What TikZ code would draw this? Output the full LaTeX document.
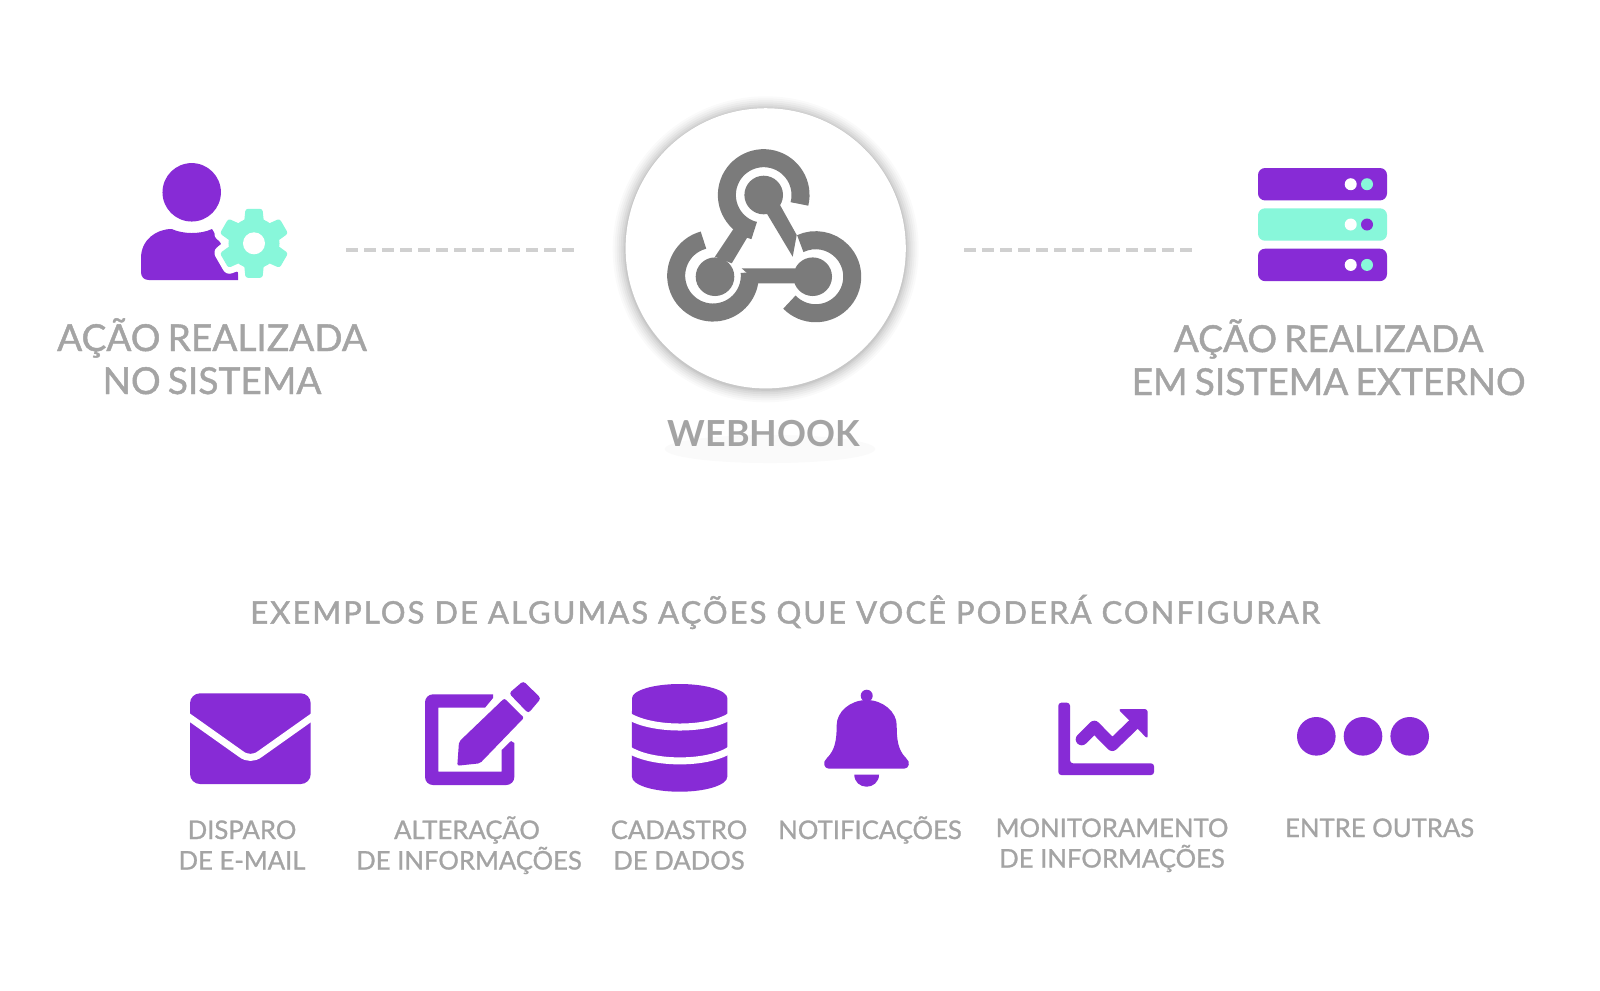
\documentclass[tikz,border=0pt]{standalone}
\usepackage{fontspec}
\setmainfont{Lato}
\newfontfamily\bigfam[WordSpace=0.75,FakeBold=1.2]{Lato}
\newfontfamily\smallfam[FakeBold=1]{Lato}
\newfontfamily\headfam[FakeBold=1.5,LetterSpace=6.7]{Lato}
\usetikzlibrary{calc}
\definecolor{pur}{HTML}{872BD6}
\definecolor{mint}{HTML}{88F7DA}
\definecolor{txt}{HTML}{A4A4A4}
\definecolor{hook}{HTML}{7B7B7B}
\definecolor{dashc}{HTML}{D0D0D0}
\tikzset{
  big/.style={anchor=base,inner sep=0pt,text=txt,font=\bigfam\fontsize{10.55pt}{11pt}\selectfont},
  bigb/.style={anchor=base,inner sep=0pt,text=txt,font=\fontsize{10.2pt}{11pt}\bfseries\selectfont},
  small/.style={anchor=base,inner sep=0pt,text=txt,font=\smallfam\fontsize{7.3pt}{8pt}\selectfont},
  head/.style={anchor=base,inner sep=0pt,text=txt,font=\headfam\fontsize{8.8pt}{9pt}\selectfont},
  link/.style={draw=dashc,line width=0.035cm,dash pattern=on 0.12cm off 0.06cm},
  ring/.style={draw=hook,line width=0.18cm},
  hub/.style={circle,draw=none,fill=white,inner sep=0pt,minimum size=2.8cm}
}
\begin{document}
\begin{tikzpicture}[x=0.01cm,y=-0.01cm]
\useasboundingbox[fill=white] (0,0) rectangle (1600,990);

% faint smudge under WEBHOOK
\fill[black!2] (770,449) ellipse [x radius=1.05cm,y radius=0.14cm];
\fill[black!2] (770,449) ellipse [x radius=0.95cm,y radius=0.09cm];

% dashed links
\coordinate (l1a) at (346,250); \coordinate (l1b) at (575,250);
\coordinate (l2a) at (964,250); \coordinate (l2b) at (1192,250);
\draw[link] (l1a) -- (l1b);
\draw[link] (l2a) -- (l2b);

% circle with shadow
\foreach \r/\o in {153/.018,151/.022,149/.026,147/.03,145/.035,143/.04,141.5/.05}
  \fill[black,opacity=\o] (765.7,249.3) circle[radius=\r*0.01cm];
\node[hub] (hubn) at (765.7,248.3) {};

% webhook icon
\coordinate (tc) at (763.7,195);
\coordinate (tr) at (763.7,195);
\coordinate (lc) at (715,276.7);
\coordinate (lr) at (713,275.7);
\coordinate (rc) at (812.7,276.7);
\coordinate (rr) at (815.7,276.7);
\fill[hook] (735,226.7) -- (715,256.7) -- (731.7,263.3) -- (756.7,221.7) -- cycle;
\fill[hook] (796.7,235) -- (792.7,256.7) -- (766.7,213.3) -- (780,205) -- cycle;
\fill[hook] (741.7,268.3) -- (795,268.3) -- (795,283.3) -- (758.3,283.3) -- cycle;
\draw[ring] (tr) ++(-14:0.368cm) arc[start angle=-14,end angle=255,radius=0.368cm];
\draw[ring] (lr) ++(105:0.368cm) arc[start angle=105,end angle=365,radius=0.368cm];
\draw[ring] (rr) ++(-136:0.365cm) arc[start angle=-136,end angle=115,radius=0.365cm];
\foreach \c in {tc,lc,rc} \fill[hook] (\c) circle[radius=0.193cm];

% person with gear
\coordinate (g) at (254,243.3);
\fill[pur] (191.7,192.3) circle[radius=0.292cm];
\fill[pur] (149,280) .. controls (144,280) and (141,277) .. (141,272) -- (141,258)
  .. controls (141,240) and (156,229) .. (171.7,229)
  .. controls (178,232) and (186,233) .. (191.7,233)
  .. controls (198,233) and (206,232) .. (212,229)
  -- (238,272) -- (238,280) -- cycle;
\foreach \a in {0,60,...,300}
  \draw[white,line width=0.14cm,line join=round,fill=white,shift={(g)},rotate=\a]
    (-10,-21) -- (-8,-33) -- (8,-33) -- (10,-21) -- cycle;
\fill[white] (g) circle[radius=0.33cm];
\foreach \a in {0,60,...,300}
  \fill[mint,rounded corners=0.025cm,shift={(g)},rotate=\a]
    (-10,-20) -- (-8.5,-34.5) -- (8.5,-34.5) -- (10,-20) -- cycle;
\fill[mint] (g) circle[radius=0.255cm];
\fill[white] (g) circle[radius=0.11cm];

% servers
\foreach \y/\c/\d in {168/pur/mint,208.3/mint/pur,248.7/pur/mint}{
  \fill[\c,rounded corners=0.07cm] (1258,\y) rectangle (1387,\y+32.4);
  \fill[white] (1350.7,\y+16.2) circle[radius=0.06cm];
  \fill[\d] (1367,\y+16.2) circle[radius=0.06cm];
}

% envelope
\fill[pur,rounded corners=0.1cm] (190,693.3) rectangle (310.7,784);
\draw[white,line width=0.07cm] (186,715) -- (241,754) .. controls (247,758.5) and (254,758.5) .. (260,754) -- (315,715);

% edit icon
\fill[pur] (493,694.3) -- (491,694.3) [rounded corners=0.08cm] -- (425,694.3) -- (425,785) -- (514.3,785) [sharp corners] -- (514.3,743) -- (511,741) -- (501.7,750) -- (501.7,771.7) -- (438.3,771.7) -- (438.3,707.7) -- (485,707.7) -- (493,698) -- cycle;
\fill[pur,rounded corners=0.02cm] (504.3,698.3) -- (524,717.7) -- (480,763.3) -- (457.3,765.7) -- (459,741.7) -- cycle;
\fill[pur,rounded corners=0.03cm] (523.3,681) -- (541,698.3) -- (528.3,713.3) -- (509,693.3) -- cycle;

% database
\fill[pur] (632,698.3) arc[start angle=180,end angle=0,x radius=0.4765cm,y radius=0.143cm]
  -- (727.3,776.7) arc[start angle=0,end angle=-180,x radius=0.4765cm,y radius=0.15cm] -- cycle;
\draw[white,line width=0.07cm] (627,715) .. controls (650,731) and (710,731) .. (732,715);
\draw[white,line width=0.07cm] (627,748.5) .. controls (650,765) and (710,765) .. (732,748.5);

% bell
\fill[pur] (866.7,695.7) circle[radius=0.06cm];
\fill[pur] (829,768.7) .. controls (824,768.7) and (822,762) .. (827,758)
  .. controls (835,750) and (836.7,740) .. (836.7,725)
  .. controls (836.7,712) and (850,700) .. (866.7,700)
  .. controls (883,700) and (896.7,712) .. (896.7,725)
  .. controls (896.7,740) and (898,750) .. (906,758)
  .. controls (911,762) and (909,768.7) .. (904,768.7) -- cycle;
\fill[pur] (854.3,774.7) -- (879,774.7) .. controls (879,782) and (873,786.7) .. (866.7,786.7) .. controls (860,786.7) and (854.3,782) .. (854.3,774.7) -- cycle;

% chart
\fill[pur,rounded corners=0.03cm] (1058.3,702.7) -- (1070,702.7) -- (1070,763.3) -- (1154,763.3) -- (1154,775) -- (1058.3,775) -- cycle;
\draw[pur,line width=0.12cm,line cap=round,line join=round] (1081.7,739.3) -- (1094.3,726.7) -- (1112.3,745) -- (1134,724);
\fill[pur,rounded corners=0.03cm] (1118,709) -- (1147.7,709) -- (1147.7,739) -- cycle;

% three dots
\foreach \x in {1316.3,1363,1409.7} \fill[pur] (\x,736.3) circle[radius=0.193cm];

% labels
\node[big] (a1) at (212,351) {AÇÃO REALIZADA};
\node[big] (a2) at (212,394) {NO SISTEMA};
\node[big] (b1) at (1328.6,352) {AÇÃO REALIZADA};
\node[big] (b2) at (1328.6,395) {EM SISTEMA EXTERNO};
\node[bigb] (wh) at (764,446) {WEBHOOK};
\node[head] (hd) at (785,623.5) {EXEMPLOS DE ALGUMAS AÇÕES QUE VOCÊ PODERÁ CONFIGURAR};
\node[small] (s1) at (242,839) {DISPARO};
\node[small] (s2) at (242,869.5) {DE E-MAIL};
\node[small] (s3) at (467,839) {ALTERAÇÃO};
\node[small] (s4) at (469,869.5) {DE INFORMAÇÕES};
\node[small] (s5) at (679,839) {CADASTRO};
\node[small] (s6) at (679,869.5) {DE DADOS};
\node[small] (s7) at (870,839) {NOTIFICAÇÕES};
\node[small] (s8) at (1112,837) {MONITORAMENTO};
\node[small] (s9) at (1112,867.5) {DE INFORMAÇÕES};
\node[small] (s10) at (1379.6,837) {ENTRE OUTRAS};
\end{tikzpicture}
\end{document}
